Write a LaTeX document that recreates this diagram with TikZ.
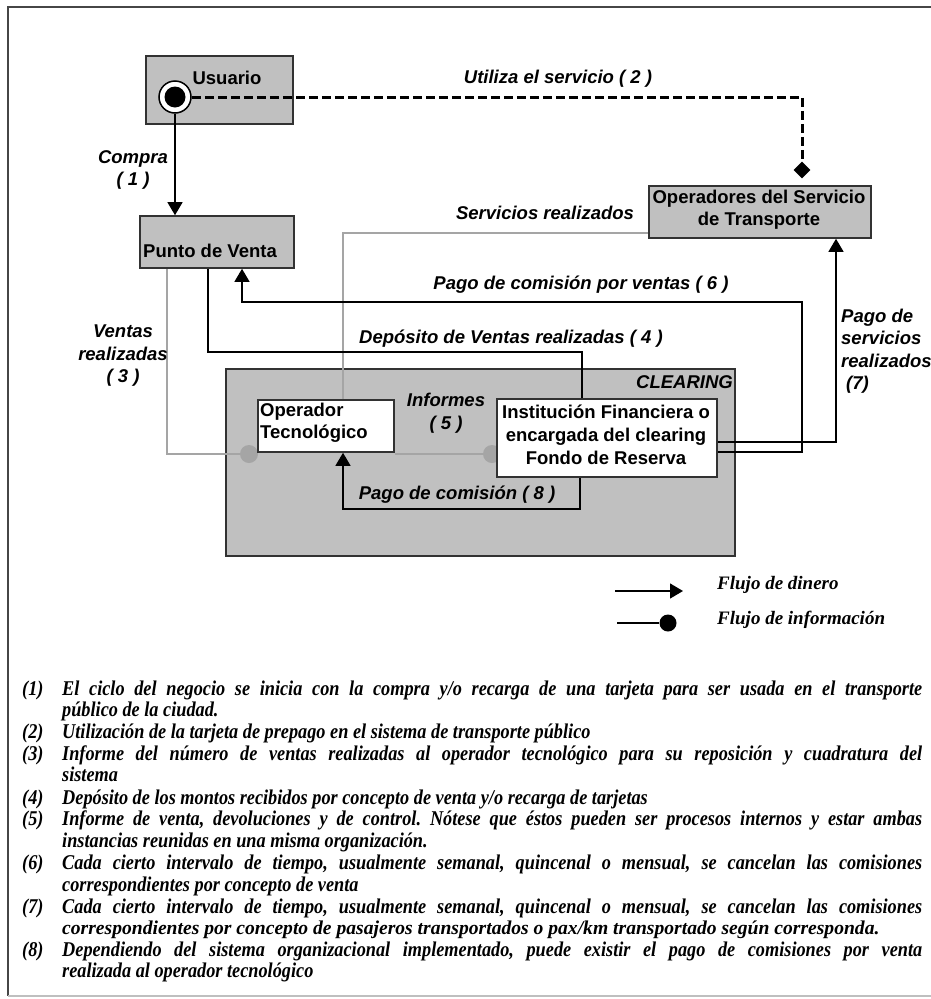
\documentclass[tikz,border=0pt]{standalone}
\usepackage{fontspec}
\setmainfont{Liberation Serif}
\newfontfamily\arialfont{Liberation Sans}
\newfontfamily\narrowserif{Liberation Serif}[FakeStretch=0.87]
\usetikzlibrary{arrows.meta,shapes.geometric}
\definecolor{boxgray}{RGB}{192,192,192}
\definecolor{edgegray}{RGB}{50,50,50}
\definecolor{infogray}{RGB}{165,165,165}
\definecolor{framegray}{RGB}{70,70,70}
\frenchspacing

\begin{document}
\begin{tikzpicture}[x=1pt,y=-1pt,
  box/.style={draw=edgegray, line width=1.6pt, inner sep=0pt},
  graybox/.style={box, fill=boxgray},
  whitebox/.style={box, fill=white},
  boxtext/.style={font=\arialfont\fontsize{18.5}{22}\selectfont\bfseries, inner sep=0pt},
  flowlabel/.style={font=\arialfont\fontsize{18.5}{22.5}\selectfont\bfseries\itshape, inner sep=0pt, align=center},
  money/.style={draw=black, line width=1.3pt, -{Triangle[width=15pt,length=13pt]}},
  plainflow/.style={draw=black, line width=1.3pt},
  infoflow/.style={draw=infogray, line width=1.3pt},
  infodot/.style={circle, fill=infogray, minimum size=18pt, inner sep=0pt},
  note/.style={font=\narrowserif\fontsize{21}{22}\selectfont\bfseries\itshape, inner sep=0pt, anchor=base west},
  legendtext/.style={font=\fontsize{19}{22}\selectfont\bfseries\itshape, inner sep=0pt, anchor=west},
]
\useasboundingbox (0,0) rectangle (931,999);
\fill[white] (0,0) rectangle (931,999);

% page frame
\draw[framegray, line width=1.8pt] (931,7) -- (8,7) -- (8,996);
\draw[black!25, line width=2pt] (8,996) -- (931,996);

% clearing area
\node[graybox, minimum width=509pt, minimum height=187pt] (clr) at (480.5,462.5) {};
\node[flowlabel, anchor=east] (clr-t) at (733,382) {CLEARING};

% connection dots of the information flows
\node[infodot] (dotL) at (249,454) {};
\node[infodot] (dotR) at (492,454) {};

% actors
\node[graybox, minimum width=147pt, minimum height=68pt] (usr) at (219.5,90) {};
\node[boxtext] (usr-t) at (227,78) {Usuario};
\node[graybox, minimum width=154pt, minimum height=52pt] (pv) at (217,242) {};
\node[boxtext] (pv-t) at (210,251) {Punto de Venta};
\node[graybox, minimum width=222pt, minimum height=52pt] (op) at (760,212) {};
\node[boxtext, align=center] (op-t) at (759,210) {Operadores del Servicio\\de Transporte};
\node[whitebox, minimum width=136pt, minimum height=52pt] (ot) at (326,426) {};
\node[boxtext, align=left, anchor=west] (ot-t) at (260,423) {Operador\\Tecnológico};
\node[whitebox, minimum width=220pt, minimum height=78pt] (inst) at (607,438) {};
\node[boxtext, align=center, font=\arialfont\fontsize{18.5}{23}\selectfont\bfseries] (inst-t) at (606,435)
  {Institución Financiera o\\encargada del clearing\\Fondo de Reserva};

% user symbol
\node[circle, draw=black, fill=white, line width=1.5pt, minimum size=32pt, inner sep=0pt] (udot) at (175,97) {};
\node[circle, fill=black, minimum size=21pt, inner sep=0pt] (ucore) at (175,97) {};

% (2) use of the service
\node[diamond, fill=black, minimum width=17pt, minimum height=17pt, inner sep=0pt] (dia) at (802,170) {};
\coordinate (k2) at (802,97);
\draw[black, line width=3pt, dash pattern=on 9pt off 4pt] (udot.east) -- (k2) -- (dia.north);
\node[flowlabel] (l2) at (558,79) {Utiliza el servicio ( 2 )};

% (1) purchase
\draw[money] (udot) -- (udot |- pv.north);
\node[flowlabel] (l1) at (133,170) {Compra\\( 1 )};

% (3) sales reported
\coordinate (k3) at (167,454);
\draw[infoflow] (k3 |- pv.south) -- (k3) -- (dotL);
\node[flowlabel] (l3) at (123,356) {Ventas\\realizadas\\( 3 )};

% services reported
\coordinate (ks) at (343,233);
\draw[infoflow] (ot.north -| ks) -- (ks) -- (ks -| op.west);
\node[flowlabel] (ls) at (545,213) {Servicios realizados};

% (4) deposit
\coordinate (k4a) at (208,352);
\coordinate (k4b) at (582,352);
\draw[plainflow] (pv.south -| k4a) -- (k4a) -- (k4b) -- (k4b |- inst.north);
\node[flowlabel] (l4) at (511,339) {Depósito de Ventas realizadas ( 4 )};

% (5) reports
\draw[infoflow] (ot.east |- dotR) -- (dotR);
\node[flowlabel] (l5) at (446,413) {Informes\\( 5 )};

% (6) sales commission
\coordinate (k6a) at (802,452);
\coordinate (k6b) at (802,302);
\coordinate (k6c) at (242,302);
\draw[money] (k6a -| inst.east) -- (k6a) -- (k6b) -- (k6c) -- (k6c |- pv.south);
\node[flowlabel] (l6) at (581,285) {Pago de comisión por ventas ( 6 )};

% (7) payment of services
\coordinate (k7) at (836,442);
\draw[money] (k7 -| inst.east) -- (k7) -- (k7 |- op.south);
\node[flowlabel, align=left, anchor=west] (l7) at (841,351) {Pago de\\servicios\\realizados\\\hspace*{5pt}(7)};

% (8) commission to the technology operator
\coordinate (k8a) at (580,509);
\coordinate (k8b) at (343,509);
\draw[money] (k8a |- inst.south) -- (k8a) -- (k8b) -- (k8b |- ot.south);
\node[flowlabel] (l8) at (457,495) {Pago de comisión ( 8 )};

% legend
\coordinate (lga) at (615,591);
\coordinate (lgb) at (683,591);
\draw[money] (lga) -- (lgb);
\node[legendtext] (lgt1) at (717,585) {Flujo de dinero};
\coordinate (lgc) at (617,623);
\node[circle, fill=black, minimum size=17pt, inner sep=0pt] (lgd) at (668,623) {};
\draw[black, line width=1.3pt] (lgc) -- (lgd);
\node[legendtext] (lgt2) at (717,620) {Flujo de información};

% numbered notes
\node[note] (n1) at (22,695) {(1)};
\node[note] (n1a) at (62,695) {\makebox[860pt][s]{El ciclo del negocio se inicia con la compra y/o recarga de una tarjeta para ser usada en el transporte}};
\node[note] (n1b) at (62,716) {público de la ciudad.};
\node[note] (n2) at (22,738) {(2)};
\node[note] (n2a) at (62,738) {Utilización de la tarjeta de prepago en el sistema de transporte público};
\node[note] (n3) at (22,760) {(3)};
\node[note] (n3a) at (62,760) {\makebox[860pt][s]{Informe del número de ventas realizadas al operador tecnológico para su reposición y cuadratura del}};
\node[note] (n3b) at (62,781) {sistema};
\node[note] (n4) at (22,804) {(4)};
\node[note] (n4a) at (62,804) {Depósito de los montos recibidos por concepto de venta y/o recarga de tarjetas};
\node[note] (n5) at (22,825) {(5)};
\node[note] (n5a) at (62,825) {\makebox[860pt][s]{Informe de venta, devoluciones y de control. Nótese que éstos pueden ser procesos internos y estar ambas}};
\node[note] (n5b) at (62,847) {instancias reunidas en una misma organización.};
\node[note] (n6) at (22,869) {(6)};
\node[note] (n6a) at (62,869) {\makebox[860pt][s]{Cada cierto intervalo de tiempo, usualmente semanal, quincenal o mensual, se cancelan las comisiones}};
\node[note] (n6b) at (62,891) {correspondientes por concepto de venta};
\node[note] (n7) at (22,913) {(7)};
\node[note] (n7a) at (62,913) {\makebox[860pt][s]{Cada cierto intervalo de tiempo, usualmente semanal, quincenal o mensual, se cancelan las comisiones}};
\node[note, font=\fontsize{19.6}{22}\selectfont\bfseries\itshape] (n7b) at (62,934) {correspondientes por concepto de pasajeros transportados o pax/km transportado según corresponda.};
\node[note] (n8) at (22,956) {(8)};
\node[note] (n8a) at (62,956) {\makebox[860pt][s]{Dependiendo del sistema organizacional implementado, puede existir el pago de comisiones por venta}};
\node[note] (n8b) at (62,977) {realizada al operador tecnológico};
\end{tikzpicture}
\end{document}
